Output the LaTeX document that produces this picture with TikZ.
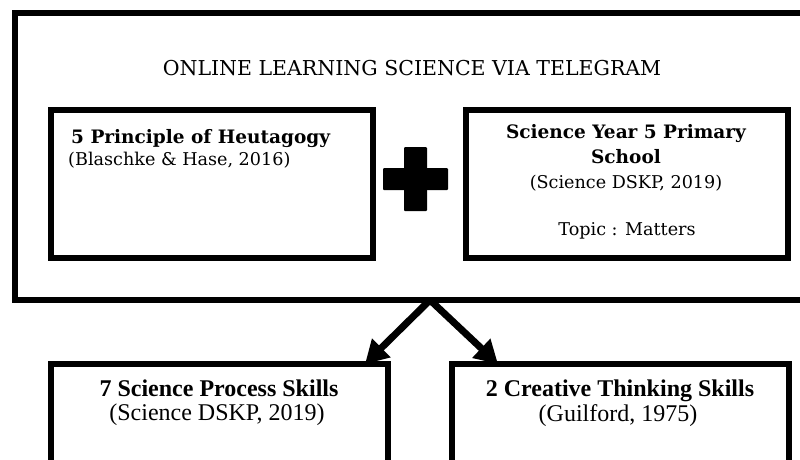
\documentclass[tikz,border=0pt]{standalone}
\usepackage{fontspec}
\usepackage{tikz}
\usetikzlibrary{arrows.meta}
\newfontfamily\topfont{DejaVu Serif}
\newfontfamily\lowfont{Liberation Serif}

\tikzset{
  box/.style={draw=black, line width=6pt, fill=white, outer sep=0pt, inner sep=0pt},
  toptext/.style={font=\topfont\fontsize{17.6}{20}\selectfont, inner sep=0pt},
  tophead/.style={font=\topfont\bfseries\fontsize{18.5}{21}\selectfont, inner sep=0pt},
  lowtext/.style={font=\lowfont\fontsize{24}{28}\selectfont, inner sep=0pt},
  lowhead/.style={font=\lowfont\bfseries\fontsize{24}{28}\selectfont, inner sep=0pt},
  bigarrow/.style={line width=7pt, -{Triangle[length=23pt, width=25pt]}}
}

\begin{document}
\begin{tikzpicture}[x=1pt, y=-1pt]
            \clip (0,0) rectangle (800,459);
            \fill[white] (0,0) rectangle (800,459);
            % outer frame
            \node[box, minimum width=796pt, minimum height=287pt] (frame) at (413,156.5) {};
            \node[font=\topfont\fontsize{20.5}{24}\selectfont, inner sep=0pt, anchor=base] (title) at (412,75) {ONLINE LEARNING SCIENCE VIA TELEGRAM};
            % inner boxes
            \node[box, minimum width=322pt, minimum height=147.5pt] (heutbox) at (211.5,183.75) {};
            \node[box, minimum width=322pt, minimum height=147.5pt] (yearbox) at (626.5,183.75) {};
            \node[tophead, anchor=base west] (heut) at (71,143) {5 Principle of Heutagogy};
            \node[toptext, anchor=base west] (heutref) at (68,165) {(Blaschke \& Hase, 2016)};
            \node[tophead, anchor=base] (year) at (626,138) {Science Year 5 Primary};
            \node[tophead, anchor=base] (school) at (626,163) {School};
            \node[toptext, anchor=base] (yearref) at (626,188) {(Science DSKP, 2019)};
            \node[toptext, anchor=base] (topic) at (627,235) {Topic : Matters};
            % plus sign
            \fill[rounded corners=1pt] (404,147) rectangle (427,211);
            \fill[rounded corners=1pt] (383,168) rectangle (448,190);
            % lower boxes
            \node[box, minimum width=337pt, minimum height=156pt] (skillsbox) at (219,442) {};
            \node[box, minimum width=337pt, minimum height=156pt] (creativebox) at (620,442) {};
            \node[lowhead, anchor=base] (skills) at (219,396) {7 Science Process Skills};
            \node[lowtext, anchor=base] (skillsref) at (217,420) {(Science DSKP, 2019)};
            \node[lowhead, anchor=base] (creative) at (620,396) {2 Creative Thinking Skills};
            \node[lowtext, anchor=base] (creativeref) at (618,421) {(Guilford, 1975)};
            % arrows
            \coordinate (split) at ([xshift=17pt]frame.south);
            \coordinate (tipL) at ([xshift=-22.5pt]skillsbox.north east);
            \coordinate (tipR) at ([xshift=46.5pt]creativebox.north west);
            \draw[bigarrow] (split) -- (tipL);
            \draw[bigarrow] (split) -- (tipR);
\end{tikzpicture}
\end{document}
